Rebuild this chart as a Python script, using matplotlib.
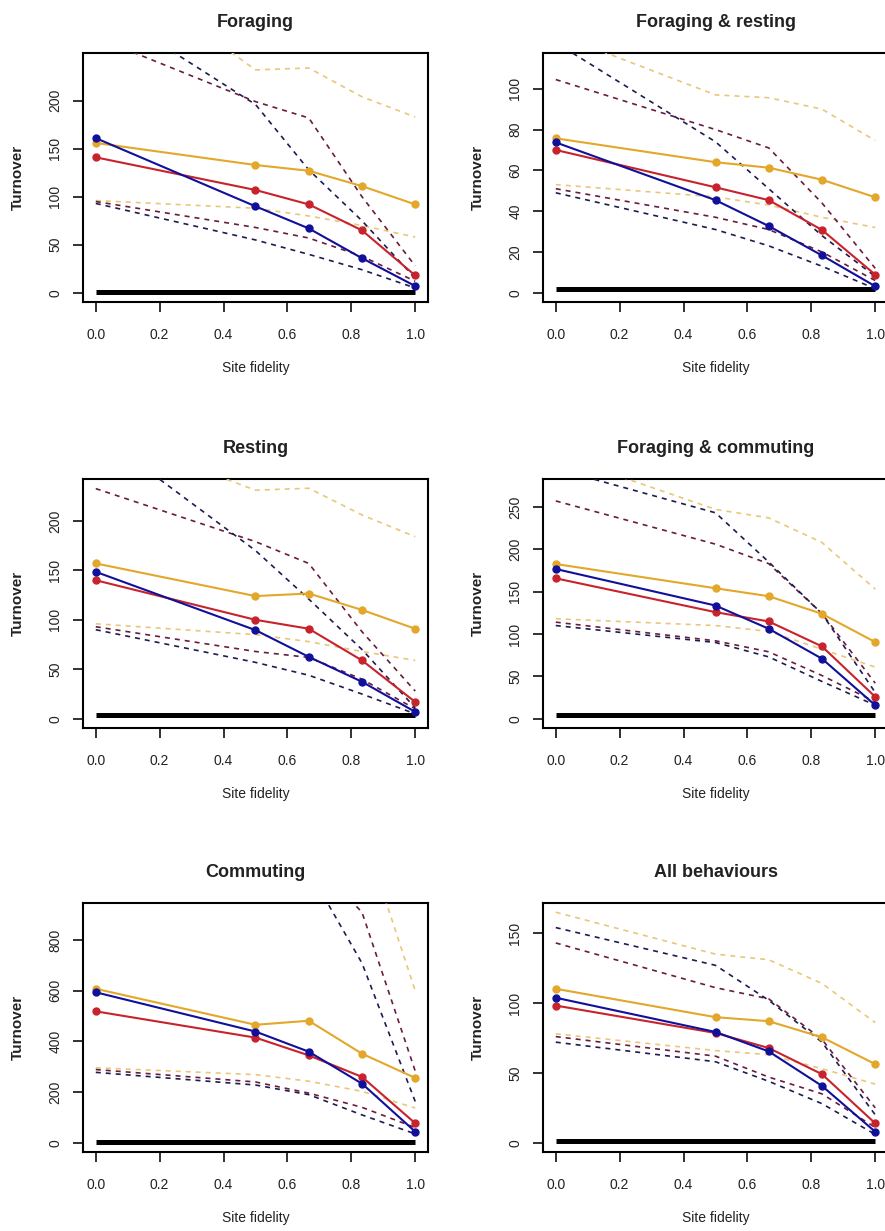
import matplotlib
matplotlib.use("Agg")
import matplotlib.pyplot as plt

plt.rcParams['font.family'] = ['Liberation Sans', 'DejaVu Sans']

# site fidelity levels
fidelity = [0, 1 / 2, 2 / 3, 5 / 6, 1]

titles = ["Foraging", "Foraging & resting", "Resting",
          "Foraging & commuting", "Commuting", "All behaviours"]
ymax = [240, 113, 233, 272, 910, 165]
yticks_step = [50, 20, 50, 50, 200, 50]
baseline = [1, 2, 4, 4, 4, 1]

# one row per panel, same order as titles
gold_mean = [[156, 133, 127, 111, 92],
             [75.7, 64, 61.3, 55.4, 46.8],
             [157, 124, 126.6, 110, 91],
             [182.6, 154, 144.6, 123.8, 90.5],
             [607.7, 465.7, 481.6, 351.6, 256],
             [110.2, 89.9, 87, 75.5, 56.3]]
red_mean = [[141, 107, 92, 65, 18],
            [70, 51.7, 45.4, 30.8, 8.9],
            [140, 100, 91, 59, 17],
            [165.7, 125.8, 114.8, 85.4, 25.9],
            [518.8, 415, 345, 260, 77],
            [98.2, 78.6, 67.8, 49.1, 13.9]]
blue_mean = [[161, 90, 67, 36, 7],
             [73.7, 45.4, 32.7, 18.3, 3.2],
             [148.5, 89.6, 62.6, 37.4, 7],
             [176.7, 133.6, 106.2, 70.9, 16],
             [594, 439, 359.6, 233.5, 43.8],
             [103.8, 79.3, 65.4, 40.7, 7.9]]

gold_lo = [[96, 88, 80, 70, 58],
           [53, 47, 43, 37, 32],
           [96, 85, 78, 68, 59],
           [118, 110, 103, 82, 61],
           [296, 269, 243, 203, 137],
           [78, 66, 63, 53, 42]]
red_lo = [[95, 68, 57, 38, 12],
          [51, 37, 31, 20, 6],
          [93, 68, 62, 40, 10],
          [114, 92, 79, 51, 20],
          [289, 240, 196, 140, 60],
          [76, 62, 47, 35, 11]]
blue_lo = [[93, 55, 40, 24, 5],
           [49, 31, 23, 13, 2],
           [90, 57, 44, 25, 5],
           [110, 90, 73, 44, 16],
           [278, 228, 190, 110, 35],
           [72, 58, 44, 28, 6]]

gold_hi = [[353, 232, 234, 204, 183],
           [127, 97, 95.6, 90, 74.6],
           [292, 231, 233, 206, 184],
           [312, 247, 237, 208, 153],
           [2500, 1800, 1500, 1240, 600],
           [165, 135, 131, 114, 86]]
red_hi = [[266, 199, 182, 100, 28],
          [104.5, 80, 71, 44, 12],
          [232.6, 179, 157, 88, 28],
          [257, 206, 183, 124, 42],
          [2200, 1600, 1130, 910, 283],
          [143, 111, 103, 74, 25]]
blue_hi = [[302, 196, 128, 75, 15],
           [122.6, 74, 51, 28, 8],
           [290, 170, 121, 70, 11],
           [295, 243, 185, 124, 31],
           [3000, 2000, 1076, 709, 163],
           [154, 127, 102, 72, 20]]

W, H = 885, 1231
fig = plt.figure(figsize=(W / 100, H / 100), dpi=100)

lefts = [83, 543]
tops = [53, 479, 903]
aw, ah = 345, 249

series = [
    (gold_mean, gold_lo, gold_hi, "#E3A72A", "#E9C77A"),
    (red_mean, red_lo, red_hi, "#C8232C", "#6A1C3C"),
    (blue_mean, blue_lo, blue_hi, "#10109A", "#1C1C52"),
]

for i, title in enumerate(titles):
    row, col = divmod(i, 2)
    ax = fig.add_axes([lefts[col] / W, 1 - (tops[row] + ah) / H, aw / W, ah / H])

    ax.plot([0, 1], [baseline[i], baseline[i]], color="black", lw=3.6,
            solid_capstyle="butt", zorder=2)
    for mean, lo, hi, c, cd in series:
        ax.plot(fidelity, lo[i], color=cd, lw=1.2, ls=(0, (3, 3)), zorder=3)
        ax.plot(fidelity, hi[i], color=cd, lw=1.2, ls=(0, (3, 3)), zorder=3)
    for mean, lo, hi, c, cd in series:
        ax.plot(fidelity, mean[i], color=c, lw=1.5, marker="o", ms=5, zorder=4)

    ax.set_xlim(-0.04, 1.04)
    ax.set_ylim(-0.04 * ymax[i], 1.04 * ymax[i])
    ax.set_xticks([0, 0.2, 0.4, 0.6, 0.8, 1.0])
    ax.set_xticklabels(["0.0", "0.2", "0.4", "0.6", "0.8", "1.0"])
    step = yticks_step[i]
    yt = list(range(0, int(ymax[i]) + 1, step))
    ax.set_yticks(yt)
    ax.set_yticklabels([str(v) for v in yt])
    ax.tick_params(axis="x", length=7, width=1.3, pad=12, labelsize=10, colors="#222222")
    ax.tick_params(axis="y", length=7, width=1.3, pad=8, labelsize=10,
                   labelrotation=90, colors="#222222")
    for lab in ax.get_yticklabels():
        lab.set_va("center")
    for s in ax.spines.values():
        s.set_linewidth(1.5)

    ax.set_title(title, fontsize=13, fontweight="bold", pad=19, color="#222222")
    ax.set_xlabel("Site fidelity", fontsize=10, color="#222222")
    ax.xaxis.label.set_va("center")
    ax.xaxis.set_label_coords(0.5, -66 / ah)
    ax.set_ylabel("Turnover", fontsize=11, fontweight="bold", color="#222222")
    ax.yaxis.label.set_va("center")
    ax.yaxis.set_label_coords(-65 / aw, 0.5)

fig.savefig("out.png", dpi=100)
